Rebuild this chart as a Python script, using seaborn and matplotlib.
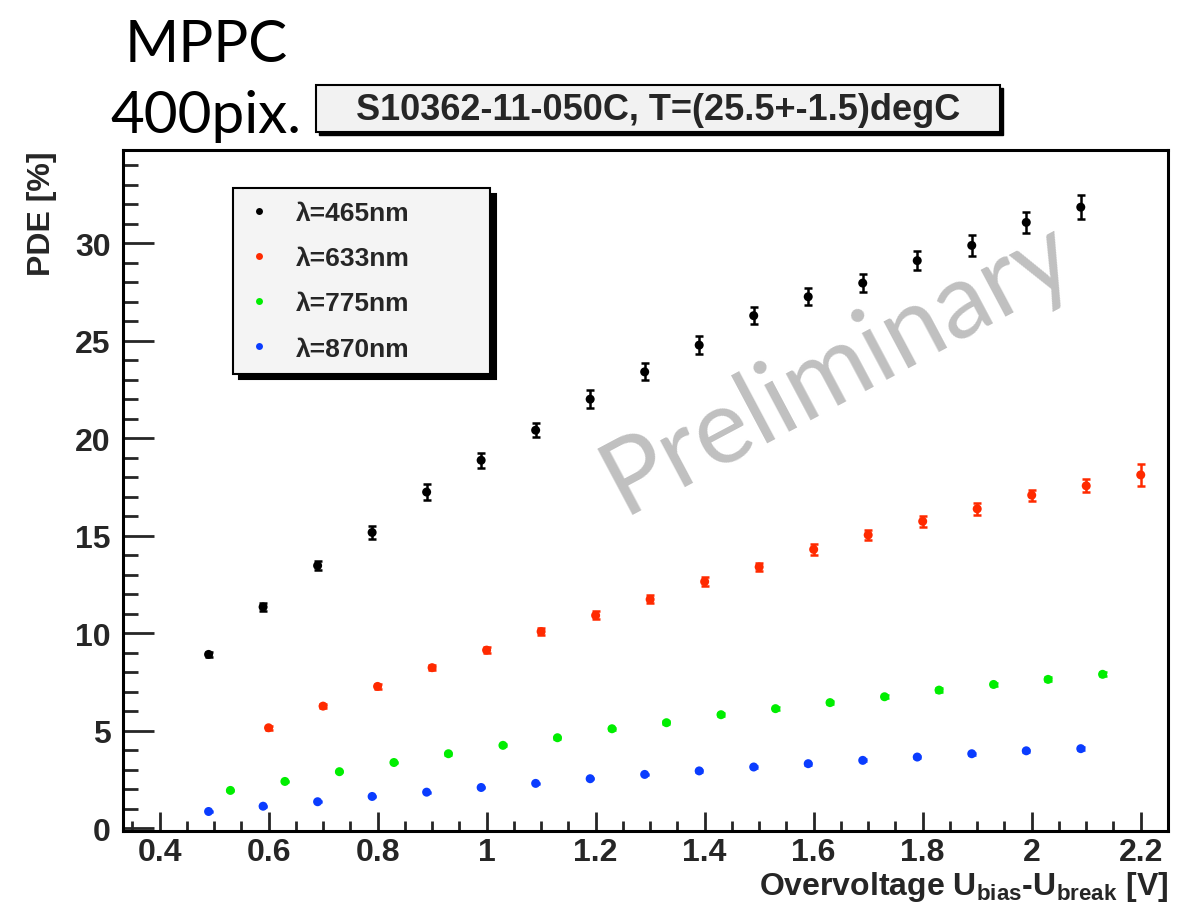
import numpy as np
import pandas as pd
import matplotlib
matplotlib.use("Agg")
import matplotlib.pyplot as plt
import seaborn as sns
from matplotlib.patches import Rectangle
from matplotlib.ticker import MultipleLocator, FuncFormatter

# ---------------- data ----------------
x_465 = [0.49, 0.59, 0.69, 0.79, 0.89, 0.99, 1.09, 1.19, 1.29, 1.39, 1.49, 1.59, 1.69, 1.79, 1.89, 1.99, 2.09]
pde_465 = [8.92, 11.35, 13.47, 15.17, 17.24, 18.87, 20.41, 22.0, 23.4, 24.77, 26.28, 27.25, 27.95, 29.1, 29.88, 31.06, 31.84]
err_465 = [0.12, 0.22, 0.22, 0.32, 0.4, 0.38, 0.37, 0.45, 0.43, 0.45, 0.45, 0.44, 0.45, 0.5, 0.52, 0.52, 0.6]

x_633 = [0.6, 0.7, 0.8, 0.9, 1.0, 1.1, 1.2, 1.3, 1.4, 1.5, 1.6, 1.7, 1.8, 1.9, 2.0, 2.1, 2.2]
pde_633 = [5.16, 6.27, 7.28, 8.24, 9.14, 10.09, 10.92, 11.74, 12.65, 13.4, 14.3, 15.04, 15.74, 16.38, 17.08, 17.56, 18.12]
err_633 = [0.1, 0.1, 0.12, 0.14, 0.16, 0.18, 0.2, 0.2, 0.22, 0.22, 0.26, 0.27, 0.27, 0.3, 0.29, 0.33, 0.58]

x_775 = [0.53, 0.63, 0.73, 0.83, 0.93, 1.03, 1.13, 1.23, 1.33, 1.43, 1.53, 1.63, 1.73, 1.83, 1.93, 2.03, 2.13]
pde_775 = [1.95, 2.41, 2.91, 3.38, 3.83, 4.26, 4.65, 5.11, 5.42, 5.83, 6.14, 6.45, 6.75, 7.09, 7.38, 7.64, 7.9]
err_775 = [0.03, 0.03, 0.04, 0.04, 0.05, 0.05, 0.06, 0.06, 0.07, 0.07, 0.08, 0.08, 0.08, 0.09, 0.09, 0.1, 0.1]

x_870 = [0.49, 0.59, 0.69, 0.79, 0.89, 0.99, 1.09, 1.19, 1.29, 1.39, 1.49, 1.59, 1.69, 1.79, 1.89, 1.99, 2.09]
pde_870 = [0.87, 1.14, 1.37, 1.64, 1.86, 2.1, 2.31, 2.55, 2.77, 2.95, 3.15, 3.32, 3.49, 3.66, 3.83, 3.98, 4.09]
err_870 = [0.02, 0.02, 0.02, 0.03, 0.03, 0.03, 0.03, 0.04, 0.04, 0.04, 0.04, 0.05, 0.05, 0.05, 0.05, 0.05, 0.06]

labels = ["\u03bb=465nm", "\u03bb=633nm", "\u03bb=775nm", "\u03bb=870nm"]
colors = ["#000000", "#ff2a00", "#00ee00", "#0a3cff"]

x_ticks = [0.4, 0.6, 0.8, 1.0, 1.2, 1.4, 1.6, 1.8, 2.0, 2.2]
y_ticks = [0, 5, 10, 15, 20, 25, 30]

series = [(x_465, pde_465, err_465), (x_633, pde_633, err_633),
          (x_775, pde_775, err_775), (x_870, pde_870, err_870)]

frames = []
for lab, (xs, ys, es) in zip(labels, series):
    frames.append(pd.DataFrame({"x": xs, "pde": ys, "err": es, "wl": lab}))
df = pd.concat(frames, ignore_index=True)

# ---------------- style ----------------
sns.set_theme(style="white")
plt.rcParams["font.family"] = ["Liberation Sans", "DejaVu Sans"]
plt.rcParams["mathtext.fontset"] = "custom"
plt.rcParams["mathtext.rm"] = "Liberation Sans:bold"
plt.rcParams["mathtext.it"] = "Liberation Sans:bold"
plt.rcParams["mathtext.bf"] = "Liberation Sans:bold"

fig = plt.figure(figsize=(11.92, 9.12), dpi=100)
ax = fig.add_axes([123 / 1192, 80 / 912, 1045 / 1192, 681 / 912])

palette = dict(zip(labels, colors))
for lab in labels:
    sub = df[df["wl"] == lab]
    ax.errorbar(sub["x"], sub["pde"], yerr=sub["err"], fmt="none",
                ecolor=palette[lab], elinewidth=1.8, capsize=2.6, capthick=1.8, zorder=2)
sns.scatterplot(data=df, x="x", y="pde", hue="wl", palette=palette, hue_order=labels,
                s=42, edgecolor="none", marker="o", ax=ax, legend=False, zorder=3)

ax.set_xlim(0.333, 2.25)
ax.set_ylim(-0.13, 34.77)

for sp in ax.spines.values():
    sp.set_linewidth(2.2)
    sp.set_color("black")

ax.set_xticks(x_ticks)
ax.set_yticks(y_ticks)
ax.xaxis.set_minor_locator(MultipleLocator(0.05))
ax.yaxis.set_minor_locator(MultipleLocator(1))
ax.xaxis.set_major_formatter(FuncFormatter(lambda v, p: "%g" % round(v, 2)))
ax.tick_params(axis="x", which="major", direction="in", length=14, width=2, pad=4,
               labelsize=23, top=False, bottom=True)
ax.tick_params(axis="x", which="minor", direction="in", length=7, width=2, top=False, bottom=True)
ax.tick_params(axis="y", which="major", direction="in", length=22, width=2, pad=9,
               labelsize=23, right=False, left=True)
ax.tick_params(axis="y", which="minor", direction="in", length=11, width=2, right=False, left=True)
for t in ax.get_xticklabels() + ax.get_yticklabels():
    t.set_fontweight("bold")

ax.set_ylabel("PDE [%]", fontsize=23, fontweight="bold", loc="top")
ax.yaxis.set_label_coords(-0.063, 1.0)
ax.set_xlabel("Overvoltage U$_{\\mathrm{bias}}$-U$_{\\mathrm{break}}$ [V]",
              fontsize=23, fontweight="bold", loc="right")
ax.xaxis.set_label_coords(1.0, -0.056)

# legend
handles = [plt.Line2D([], [], ls="none", marker="o", markersize=5, color=c,
                      markeredgewidth=0) for c in colors]
leg = ax.legend(handles, labels, loc="upper left",
                bbox_to_anchor=(233 / 1192, 1 - 189 / 912, (490 - 233) / 1192, 0.0),
                bbox_transform=fig.transFigure, mode="expand",
                prop={"family": "Liberation Sans", "weight": "bold", "size": 19},
                frameon=True, fancybox=False, framealpha=1, borderpad=0.5,
                labelspacing=0.8, handlelength=1.0, handletextpad=0.9,
                borderaxespad=0,
                shadow={"ox": 4, "oy": -4, "color": "black", "alpha": 1})
leg.get_frame().set_facecolor("#f4f4f4")
leg.get_frame().set_edgecolor("black")
leg.get_frame().set_linewidth(1.5)

# watermark
ax.text(0.703, 0.597, "Preliminary", transform=fig.transFigure, rotation=28,
        rotation_mode="anchor", ha="center", va="center", fontsize=75,
        family="Lato", color="#c0c0c0", zorder=1)

# titles
fig.text(125 / 1192, 1 - 62 / 912, "MPPC", family="Lato", fontsize=42,
         ha="left", va="baseline", color="black")
fig.text(110 / 1192, 1 - 133 / 912, "400pix.", family="Lato", fontsize=42,
         ha="left", va="baseline", color="black")

# boxed caption with shadow
bx0, bx1 = 316 / 1192, 1000 / 1192
by0, by1 = 1 - 133 / 912, 1 - 86 / 912
fig.patches.append(Rectangle((bx0 + 3 / 1192, by0 - 3 / 912), bx1 - bx0, by1 - by0,
                             transform=fig.transFigure, facecolor="black",
                             edgecolor="black", lw=1, zorder=1))
fig.patches.append(Rectangle((bx0, by0), bx1 - bx0, by1 - by0,
                             transform=fig.transFigure, facecolor="#f2f2f2",
                             edgecolor="black", lw=1.5, zorder=2))
fig.text((bx0 + bx1) / 2, (by0 + by1) / 2 - 1 / 912, "S10362-11-050C, T=(25.5+-1.5)degC",
         fontsize=26, fontweight="bold", ha="center", va="center", zorder=3)

fig.savefig("out.png", dpi=100)
